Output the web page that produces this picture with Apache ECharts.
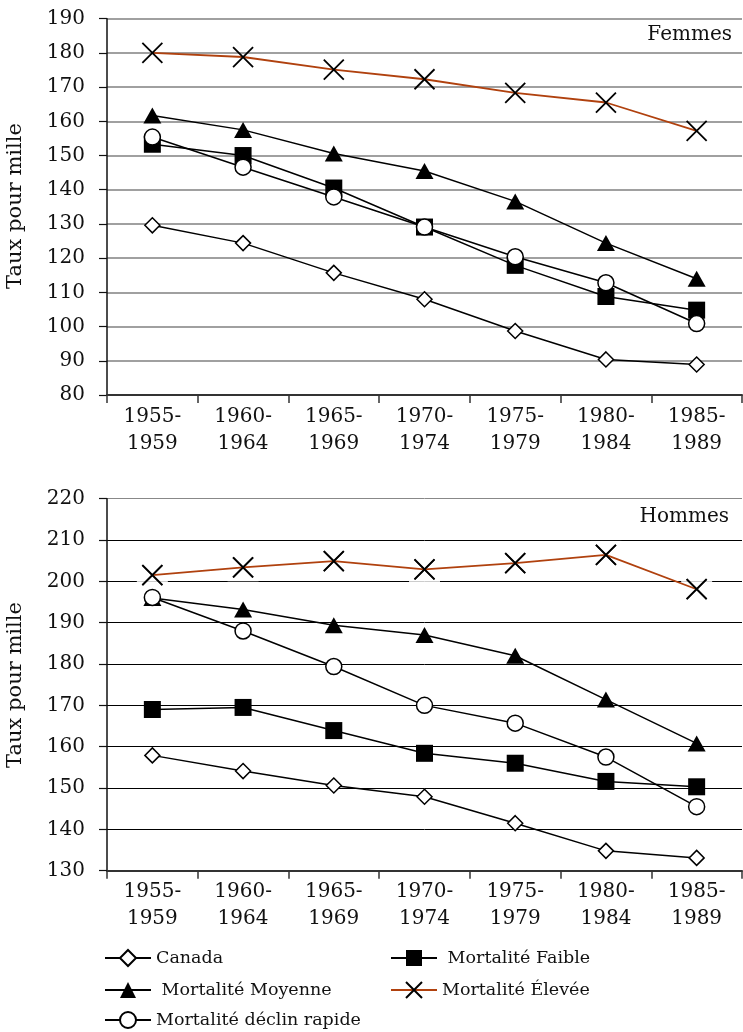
<!DOCTYPE html>
<html><head><meta charset="utf-8">
<script src="https://cdn.jsdelivr.net/npm/echarts@6/dist/echarts.min.js"></script>
<style>html,body{margin:0;padding:0;background:#fff}#c{width:743px;height:1032px}</style>
</head><body><div id="c"></div>
<script>
const categories = ['1955-\n1959','1960-\n1964','1965-\n1969','1970-\n1974','1975-\n1979','1980-\n1984','1985-\n1989'];
const seriesNames = ['Canada','Mortalité Faible','Mortalité Moyenne','Mortalité Élevée','Mortalité déclin rapide'];

// Femmes
const femmesCanada  = [129.6,124.4,115.7,108.0,98.7,90.4,88.9];
const femmesFaible  = [153.3,150.0,140.5,129.1,117.9,108.8,104.8];
const femmesMoyenne = [161.7,157.5,150.6,145.5,136.6,124.4,114.0];
const femmesElevee  = [180.0,178.8,175.1,172.3,168.3,165.5,157.2];
const femmesDeclin  = [155.4,146.6,137.9,129.1,120.4,112.8,100.9];

// Hommes
const hommesCanada  = [157.9,154.1,150.6,147.9,141.5,134.8,133.1];
const hommesFaible  = [169.0,169.5,163.9,158.4,156.0,151.6,150.3];
const hommesMoyenne = [196.0,193.2,189.4,187.0,182.0,171.4,160.8];
const hommesElevee  = [201.5,203.4,204.9,202.9,204.4,206.4,198.1];
const hommesDeclin  = [196.1,188.0,179.4,170.0,165.7,157.5,145.5];

const FONT = 'DejaVu Serif';
const ORANGE = '#b0410e';
const XPATH = 'path://M0,0L20,20M20,0L0,20';

function styleFor(name){
  switch(name){
    case 'Canada': return {symbol:'diamond', symbolSize:[15,15], itemStyle:{color:'#fff',borderColor:'#000',borderWidth:1.5}, lineStyle:{color:'#000',width:1.5}};
    case 'Mortalité Faible': return {symbol:'rect', symbolSize:[17,17], itemStyle:{color:'#000',borderColor:'#000',borderWidth:0}, lineStyle:{color:'#000',width:1.5}};
    case 'Mortalité Moyenne': return {symbol:'triangle', symbolSize:[18,16], itemStyle:{color:'#000',borderColor:'#000',borderWidth:0}, lineStyle:{color:'#000',width:1.5}};
    case 'Mortalité Élevée': return {symbol:XPATH, symbolSize:[20,20], itemStyle:{color:'rgba(0,0,0,0)',borderColor:'#000',borderWidth:1.8}, lineStyle:{color:ORANGE,width:1.8}};
    case 'Mortalité déclin rapide': return {symbol:'circle', symbolSize:[16,16], itemStyle:{color:'#fff',borderColor:'#000',borderWidth:1.5}, lineStyle:{color:'#000',width:1.5}};
  }
}

function lineSeries(name, data, idx){
  return Object.assign({type:'line', name:name, data:data, xAxisIndex:idx, yAxisIndex:idx,
    showSymbol:true, showAllSymbol:true, animation:false, emphasis:{disabled:true}}, styleFor(name));
}

const topData = {'Canada':femmesCanada,'Mortalité Faible':femmesFaible,'Mortalité Moyenne':femmesMoyenne,'Mortalité Élevée':femmesElevee,'Mortalité déclin rapide':femmesDeclin};
const botData = {'Canada':hommesCanada,'Mortalité Faible':hommesFaible,'Mortalité Moyenne':hommesMoyenne,'Mortalité Élevée':hommesElevee,'Mortalité déclin rapide':hommesDeclin};

const drawOrder = ['Mortalité Élevée','Canada','Mortalité Faible','Mortalité Moyenne','Mortalité déclin rapide'];
const series = [];
drawOrder.forEach(n => series.push(lineSeries(n, topData[n], 0)));
// bottom: orange line, white boxes over it, then X markers
series.push(lineSeries('Mortalité Élevée', hommesElevee, 1));
series.push({type:'scatter', name:'_box', data:hommesElevee, xAxisIndex:1, yAxisIndex:1, symbol:'rect', symbolSize:[31,28],
  itemStyle:{color:'#fff'}, silent:true, animation:false, emphasis:{disabled:true}});
series.push({type:'scatter', name:'_x', data:hommesElevee, xAxisIndex:1, yAxisIndex:1, symbol:XPATH, symbolSize:[20,20],
  itemStyle:{color:'rgba(0,0,0,0)',borderColor:'#000',borderWidth:1.8}, silent:true, animation:false, emphasis:{disabled:true}});
drawOrder.slice(1).forEach(n => series.push(lineSeries(n, botData[n], 1)));

function xAxis(idx){
  return {type:'category', gridIndex:idx, data:categories, boundaryGap:true,
    axisLine:{lineStyle:{color:'#333',width:2}},
    axisTick:{show:true, length:8, alignWithLabel:false, lineStyle:{color:'#333',width:1.5}},
    axisLabel:{color:'#111', fontFamily:FONT, fontSize:20, lineHeight:27, margin:8, interval:0},
    splitLine:{show:false}};
}
function yAxis(idx, min, max, gridColors, gridWidth){
  return {type:'value', gridIndex:idx, min:min, max:max, interval:10,
    axisLine:{show:true, lineStyle:{color:'#111',width:1.5}},
    axisTick:{show:true, length:8, lineStyle:{color:'#111',width:1.2}},
    axisLabel:{color:'#111', fontFamily:FONT, fontSize:20, margin:22},
    splitLine:{show:true, lineStyle:{color:gridColors, width:gridWidth}}};
}
const botGridColors = ['#000','#000','#000','#000','#000','#000','#000','#000','#000','#888'];

function legendItem(name, left, centerY){
  return {orient:'horizontal', left:left, top:centerY - 10, itemWidth:46, itemHeight:20,
    data:[name], selectedMode:false,
    textStyle:{color:'#111', fontFamily:FONT, fontSize:17.5, lineHeight:20},
    formatter: n => (n==='Mortalité Moyenne' || n==='Mortalité Faible') ? ' ' + n : n};
}

const option = {
  backgroundColor:'#fff',
  animation:false,
  grid:[
    {left:107, right:1, top:18.7, height:376.3},
    {left:107, right:1, top:498.7, height:372}
  ],
  xAxis:[xAxis(0), xAxis(1)],
  yAxis:[yAxis(0,80,190,'#808080',1.5), yAxis(1,130,220,botGridColors,1)],
  legend:[
    legendItem('Canada', 99, 953),
    legendItem('Mortalité Moyenne', 99, 985),
    legendItem('Mortalité déclin rapide', 99, 1015),
    legendItem('Mortalité Faible', 385, 953),
    legendItem('Mortalité Élevée', 385, 985)
  ],
  graphic:[
    {type:'text', x:16, y:206, rotation:Math.PI/2, style:{text:'Taux pour mille', fill:'#111', font:'21px "DejaVu Serif"', textAlign:'center', textVerticalAlign:'middle'}},
    {type:'text', x:16, y:685, rotation:Math.PI/2, style:{text:'Taux pour mille', fill:'#111', font:'21px "DejaVu Serif"', textAlign:'center', textVerticalAlign:'middle'}},
    {type:'text', right:11, top:25, style:{text:'Femmes', fill:'#111', font:'20px "DejaVu Serif"'}},
    {type:'text', right:14, top:507, style:{text:'Hommes', fill:'#111', font:'20px "DejaVu Serif"'}}
  ],
  series:series
};
const chart = echarts.init(document.getElementById('c'), null, {renderer:'canvas'});
chart.setOption(option);
</script></body></html>
